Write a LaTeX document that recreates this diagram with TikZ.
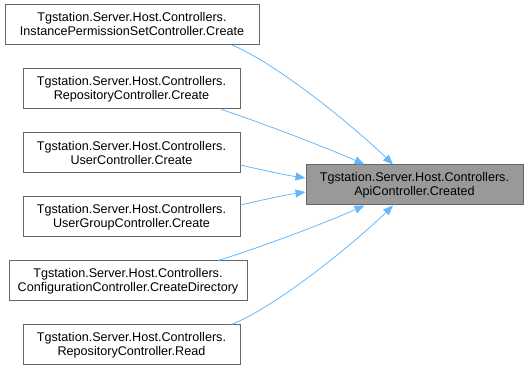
\documentclass[tikz,border=0pt]{standalone}
\usepackage{fontspec}
\setmainfont{Liberation Sans}
\usetikzlibrary{arrows.meta}
\definecolor{edgeblue}{HTML}{63B8FF}
\definecolor{boxline}{HTML}{666666}
\definecolor{hlfill}{HTML}{999999}
\begin{document}
\begin{tikzpicture}[x=1pt,y=-1pt,
  fn/.style={draw=boxline,line width=1pt,fill=white,rectangle,inner sep=0pt,
    minimum height=40pt,align=center,
    font=\fontsize{12.6pt}{14pt}\selectfont},
  hl/.style={fn,fill=hlfill},
  call/.style={draw=edgeblue,line width=0.8pt,-{Triangle[length=10pt,width=8pt]}}]
\useasboundingbox (0,0) rectangle (528,371);

% callers
\node[fn,minimum width=254pt] (n1) at (132,24.5) {Tgstation.Server.Host.Controllers.\\InstancePermissionSetController.Create};
\node[fn,minimum width=217pt] (n2) at (131.5,89) {Tgstation.Server.Host.Controllers.\\RepositoryController.Create};
\node[fn,minimum width=217pt] (n3) at (131.5,153) {Tgstation.Server.Host.Controllers.\\UserController.Create};
\node[fn,minimum width=217pt] (n4) at (131.5,217) {Tgstation.Server.Host.Controllers.\\UserGroupController.Create};
\node[fn,minimum width=238pt] (n5) at (128,281) {Tgstation.Server.Host.Controllers.\\ConfigurationController.CreateDirectory};
\node[fn,minimum width=217pt] (n6) at (131.5,345) {Tgstation.Server.Host.Controllers.\\RepositoryController.Read};

% callee
\node[hl,minimum width=217pt] (t) at (414.5,185) {Tgstation.Server.Host.Controllers.\\ApiController.Created};

% call edges
\draw[call] ([xshift=100pt]n1.south) .. controls (282,66) and (363,135) .. ([xshift=-21.5pt]t.north);
\draw[call] ([xshift=90pt]n2.south) .. controls (262,123) and (325,147) .. ([xshift=-50pt]t.north);
\draw[call] ([yshift=-12pt]n3.east) .. controls (262,170) and (285,175) .. ([yshift=7pt]t.west);
\draw[call] ([yshift=12pt]n4.east) .. controls (262,200) and (285,195) .. ([yshift=-7pt]t.west);
\draw[call] ([xshift=90pt]n5.north) .. controls (262,247) and (325,223) .. ([xshift=-50pt]t.south);
\draw[call] ([xshift=100pt]n6.north) .. controls (282,304) and (363,235) .. ([xshift=-21.5pt]t.south);
\end{tikzpicture}
\end{document}
